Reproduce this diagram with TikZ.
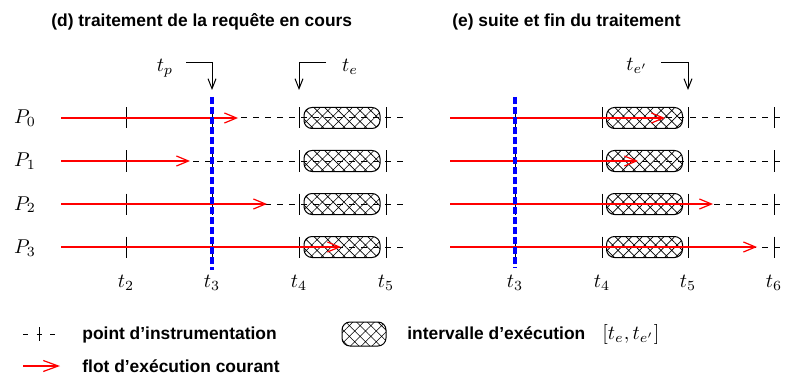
\documentclass[tikz,border=0pt]{standalone}
\usepackage{fontspec}
\setmainfont{Liberation Sans}
\usetikzlibrary{arrows.meta, patterns.meta, positioning}

\begin{document}
\begin{tikzpicture}[x=0.5pt, y=-0.5pt,
    heading/.style={font=\fontsize{8.7}{10}\selectfont\bfseries, anchor=base west, inner sep=0pt},
    math/.style={anchor=base, inner sep=0pt},
    timeline/.style={dashed, line width=0.5pt},
    tick/.style={line width=0.5pt},
    flow/.style={red, line width=0.6pt, -{Straight Barb[length=6pt,width=5pt]}},
    marker/.style={line width=0.5pt, -{Straight Barb[length=5pt,width=4pt]}},
    cut/.style={blue, line width=1.6pt, dash pattern=on 3.5pt off 1.5pt},
    exec/.style={draw, line width=0.5pt, rounded corners=4pt, inner sep=0pt,
                 minimum width=38pt, minimum height=10.5pt,
                 pattern={Hatch[angle=45, distance=3.8pt, line width=0.3pt]}}
  ]
    \useasboundingbox (0,0) rectangle (787,374);

    % (d) request in progress
    \node[heading] (dtitle) at (51,27) {(d) traitement de la requête en cours};
    \foreach \y/\tip [count=\i from 0] in {118/238, 161/190, 204/267, 247/341} {
      \node[math] (P\i) at (25,\y+6) {$P_\i$};
      \coordinate (dstart\i) at (61,\y);
      \coordinate (dend\i) at (405,\y);
      \coordinate (dnow\i) at (\tip,\y);
      \node[exec] (dexec\i) at (342,\y) {};
      \draw[timeline] (dstart\i) -- (dend\i);
      \foreach \t in {126,212,299,386}
        \draw[tick] (\t,\y-10.5) -- (\t,\y+10.5);
      \draw[flow] (dstart\i) -- (dnow\i);
    }
    \coordinate (dcuttop) at (212,97);
    \coordinate (dcutbot) at (212,270);
    \draw[cut] (dcuttop) -- (dcutbot);
    \foreach \t/\n in {126/2, 212/3, 299/4, 386/5}
      \node[math] (dt\n) at (\t,287) {$t_\n$};

    % markers t_p and t_e
    \node[math] (tp) at (165,72) {$t_p$};
    \coordinate (tpfrom) at (186,63);
    \coordinate (tpto) at (212,90);
    \draw[marker] (tpfrom) -| (tpto);
    \node[math] (te) at (350,72) {$t_e$};
    \coordinate (tefrom) at (326,63);
    \coordinate (teto) at (299,90);
    \draw[marker] (tefrom) -| (teto);

    % (e) end of processing
    \node[heading] (etitle) at (452,27) {(e) suite et fin du traitement};
    \foreach \y/\tip [count=\i from 0] in {118/665, 161/638, 204/713, 247/757} {
      \coordinate (estart\i) at (450,\y);
      \coordinate (eend\i) at (780,\y);
      \coordinate (enow\i) at (\tip,\y);
      \node[exec] (eexec\i) at (644.5,\y) {};
      \draw[timeline] (estart\i) -- (eend\i);
      \foreach \t in {515,602,688,774}
        \draw[tick] (\t,\y-10.5) -- (\t,\y+10.5);
      \draw[flow] (estart\i) -- (enow\i);
    }
    \coordinate (ecuttop) at (515,97);
    \coordinate (ecutbot) at (515,268);
    \draw[cut] (ecuttop) -- (ecutbot);
    \foreach \t/\n in {515/3, 602/4, 688/5, 774/6}
      \node[math] (et\n) at (\t,287) {$t_\n$};

    % marker t_e'
    \node[math] (tee) at (637,71) {$t_{e'}$};
    \coordinate (teefrom) at (661,63);
    \coordinate (teeto) at (688,90);
    \draw[marker] (teefrom) -| (teeto);

    % Legend
    \coordinate (lgdash1) at (23,334);
    \coordinate (lgdash2) at (55,334);
    \draw[line width=0.5pt, dash pattern=on 2.5pt off 4.25pt] (lgdash1) -- (lgdash2);
    \draw[tick] (39,327) -- (39,341);
    \node[heading] (lgpoint) at (82,339) {point d'instrumentation};
    \coordinate (lgflow1) at (23,366);
    \coordinate (lgflow2) at (60,366);
    \draw[flow, -{Straight Barb[length=7.5pt,width=5.5pt]}] (lgflow1) -- (lgflow2);
    \node[heading] (lgflow) at (82,372) {flot d'exécution courant};
    \node[exec, minimum width=22pt, minimum height=12pt] (lgexec) at (364,334) {};
    \node[heading] (lginterval) at (407,339) {intervalle d'exécution};
    \node[anchor=base west, inner sep=0pt] (lgrange) at (602,339) {$[t_e, t_{e'}]$};
  \end{tikzpicture}
\end{document}
